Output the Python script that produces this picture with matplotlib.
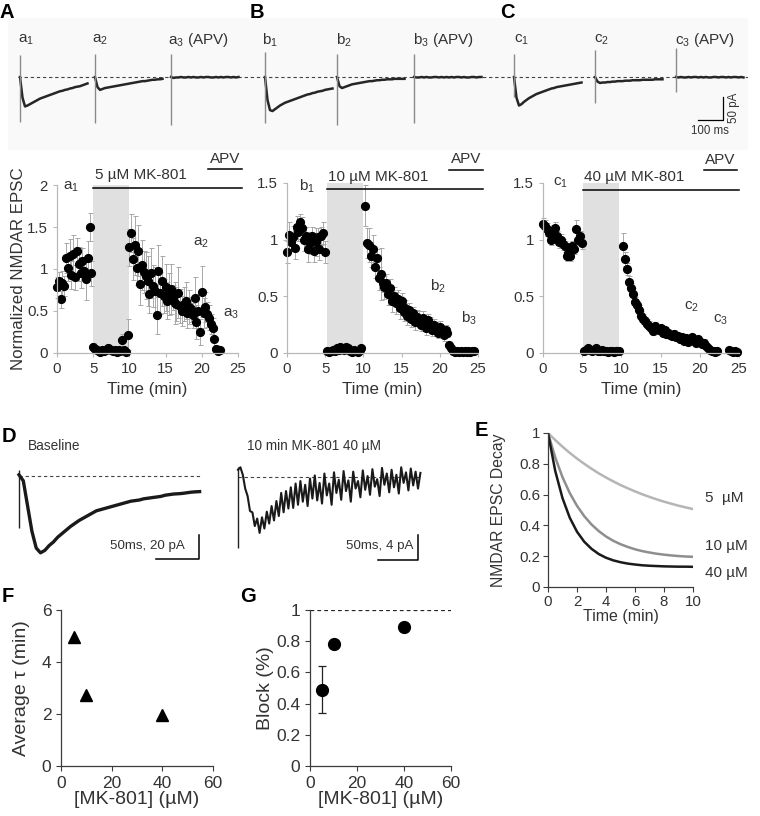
"""
Multi-panel MK-801 block figure: example traces, normalized NMDAR EPSC time
courses at three MK-801 concentrations, decay fits and dose summaries.
Saves out.png (760 x 816 px).
"""

import numpy as np
import matplotlib
matplotlib.use("Agg")
import matplotlib.pyplot as plt

plt.rcParams['font.family'] = ['Liberation Sans', 'DejaVu Sans']
plt.rcParams['mathtext.fontset'] = 'custom'
plt.rcParams['mathtext.rm'] = 'Liberation Sans'
plt.rcParams['mathtext.it'] = 'Liberation Sans:italic'

# ---------------------------------------------------------------- data ------
SWEEP_MIN = 0.25          # minutes between plotted sweeps
nan = np.nan

# A: 5 uM MK-801 (normalized EPSC, SEM)
a_norm = [0.78, 0.86, 0.64, 0.83, 0.80, 1.13, 1.01, 1.16, 0.93, 1.18,
          0.90, 1.21, 1.06, 0.95, 1.10, 0.98, 0.88, 1.13, 1.50, 0.95,
          0.07, 0.05, 0.03, 0.02, 0.01, 0.03, 0.02, 0.04, 0.06, 0.05,
          0.03, 0.02, 0.04, 0.01, 0.03, 0.02, 0.15, 0.03, 0.01, 0.22,
          1.26, 1.43, 1.12, 1.28, 1.01, 1.22, 0.82, 1.05, 0.96, 0.92,
          0.86, 0.70, 0.95, 0.80, 0.74, 0.45, 0.98, 0.72, 0.86, 0.68,
          0.78, 0.62, 0.70, 0.76, 0.66, 0.60, 0.58, 0.72, 0.56, 0.50,
          0.58, 0.62, 0.48, 0.55, 0.52, 0.45, 0.66, 0.37, 0.50, 0.25,
          0.73, 0.48, 0.55, 0.46, 0.42, 0.35, 0.30, 0.17, 0.05, 0.02, 0.03]
a_sem = [0.12, 0.10, 0.10, 0.15, 0.12, 0.18, 0.15, 0.20, 0.17, 0.22,
         0.15, 0.16, 0.20, 0.18, 0.15, 0.12, 0.25, 0.20, 0.17, 0.15,
         0.05, 0.04, 0.03, 0.03, 0.02, 0.03, 0.03, 0.04, 0.05, 0.04,
         0.03, 0.03, 0.04, 0.02, 0.03, 0.03, 0.08, 0.04, 0.03, 0.18,
         0.22, 0.23, 0.25, 0.35, 0.20, 0.30, 0.25, 0.30, 0.25, 0.28,
         0.30, 0.22, 0.30, 0.25, 0.28, 0.22, 0.30, 0.25, 0.30, 0.20,
         0.28, 0.22, 0.25, 0.30, 0.15, 0.25, 0.20, 0.30, 0.20, 0.18,
         0.20, 0.22, 0.18, 0.20, 0.15, 0.15, 0.25, 0.20, 0.20, 0.15,
         0.30, 0.18, 0.18, 0.15, 0.15, 0.12, 0.12, 0.10, 0.05, 0.03, 0.03]

# B: 10 uM MK-801
b_norm = [0.89, 1.04, 0.98, 1.02, 0.93, 1.11, 1.07, 1.16, 1.10, 1.00,
          1.03, 0.92, 0.97, 1.03, 0.90, 0.98, 1.02, 0.92, 1.03, 1.06, 0.89,
          0.02, 0.01, 0.02, 0.03, 0.02, 0.04, 0.03, 0.05, 0.04, 0.03,
          0.05, 0.04, 0.02, 0.01, 0.03, 0.02, 0.01, 0.03, 0.04, nan,
          1.30, 0.97, 0.95, 0.86, 0.92, 0.76, 0.84, 0.66, 0.70, 0.62,
          0.58, 0.62, 0.52, 0.57, 0.46, 0.50, 0.44, 0.48, 0.40, 0.46,
          0.36, 0.40, 0.33, 0.38, 0.30, 0.35, 0.27, 0.32, 0.30, 0.25,
          0.31, 0.28, 0.22, 0.29, 0.26, 0.20, 0.25, 0.22, 0.18, 0.23,
          0.20, 0.16, 0.20, 0.18, 0.07, 0.04, 0.02, 0.01, 0.02, 0.01,
          0.02, 0.01, 0.02, 0.01, 0.02, 0.01, 0.02, 0.02]
b_sem = [0.10, 0.12, 0.08, 0.10, 0.10, 0.10, 0.08, 0.07, 0.10, 0.10,
         0.08, 0.12, 0.10, 0.08, 0.10, 0.12, 0.08, 0.10, 0.08, 0.10, 0.10,
         0.02, 0.02, 0.02, 0.02, 0.02, 0.02, 0.02, 0.02, 0.02, 0.02,
         0.02, 0.02, 0.02, 0.02, 0.02, 0.02, 0.02, 0.02, 0.02, nan,
         0.18, 0.13, 0.15, 0.10, 0.12, 0.10, 0.08, 0.10, 0.23, 0.08,
         0.10, 0.08, 0.10, 0.08, 0.10, 0.08, 0.10, 0.08, 0.10, 0.07,
         0.08, 0.07, 0.08, 0.06, 0.07, 0.06, 0.07, 0.06, 0.07, 0.06,
         0.06, 0.05, 0.06, 0.05, 0.06, 0.05, 0.05, 0.05, 0.05, 0.05,
         0.05, 0.05, 0.05, 0.04, 0.03, 0.02, 0.02, 0.02, 0.02, 0.02,
         0.02, 0.02, 0.02, 0.02, 0.02, 0.02, 0.02, 0.02]

# C: 40 uM MK-801
c_norm = [1.14, 1.12, 1.09, 1.06, 1.00, 1.05, 1.10, 1.03, 0.98, 1.00,
          0.96, 0.94, 0.86, 0.88, 0.86, 0.94, 0.92, 1.09, 1.00, 1.03, 0.97,
          0.02, 0.03, 0.04, 0.03, 0.02, 0.03, 0.04, 0.02, 0.02, 0.03,
          0.02, 0.02, 0.01, 0.02, 0.02, 0.01, 0.02, 0.02, 0.02, nan,
          0.94, 0.83, 0.74, 0.63, 0.57, 0.52, 0.45, 0.42, 0.38, 0.33,
          0.30, 0.28, 0.26, 0.24, 0.22, 0.19, 0.24, 0.21, 0.20, 0.22,
          0.18, 0.20, 0.17, 0.18, 0.16, 0.15, 0.17, 0.14, 0.15, 0.12,
          0.14, 0.11, 0.13, 0.10, 0.12, 0.14, 0.11, 0.09, 0.12, 0.10,
          0.08, 0.09, 0.06, 0.04, 0.03, 0.02, 0.02, 0.01, 0.02, nan,
          nan, nan, nan, nan, 0.03, 0.02, 0.01, 0.02, 0.01]
c_sem = [0.05, 0.05, 0.06, 0.05, 0.05, 0.08, 0.06, 0.05, 0.05, 0.05,
         0.05, 0.05, 0.05, 0.05, 0.05, 0.05, 0.05, 0.08, 0.05, 0.05, 0.05,
         0.02, 0.02, 0.02, 0.02, 0.02, 0.02, 0.02, 0.02, 0.02, 0.02,
         0.02, 0.02, 0.02, 0.02, 0.02, 0.02, 0.02, 0.02, 0.02, nan,
         0.12, 0.06, 0.05, 0.05, 0.05, 0.05, 0.04, 0.04, 0.04, 0.04,
         0.04, 0.04, 0.04, 0.04, 0.03, 0.03, 0.03, 0.03, 0.03, 0.03,
         0.03, 0.03, 0.03, 0.03, 0.03, 0.03, 0.03, 0.03, 0.03, 0.03,
         0.03, 0.03, 0.03, 0.03, 0.03, 0.03, 0.03, 0.03, 0.03, 0.03,
         0.03, 0.03, 0.02, 0.02, 0.02, 0.02, 0.02, 0.02, 0.02, nan,
         nan, nan, nan, nan, 0.02, 0.02, 0.02, 0.02, 0.02]

# example sweeps (pA), 10 ms per sample
TRACE_DT = 10
a1 = [0, -45, -64, -62, -59, -56, -53, -50, -47, -45, -43, -41, -39, -37,
      -35, -33, -31, -30, -28, -27, -25, -24, -22, -21, -20, -18, -16, -14]
a2 = [0, -22, -28, -26, -24, -23, -22, -21, -20, -19, -18, -17, -16, -15,
      -14, -13, -12, -11, -10, -9, -9, -8, -7, -6, -6, -5, -5, -4]
a3 = [0, -2, -1, -1, 0, -1, -1, 0, -1, 0, -1, -1, 0, -1,
      0, 0, -1, -1, 0, -1, 0, -1, 0, 0, -1, 0, -1, 0]
b1 = [0, -50, -72, -74, -70, -66, -62, -59, -56, -54, -52, -50, -48, -46,
      -44, -42, -40, -38, -37, -35, -34, -32, -31, -30, -28, -27, -26, -25]
b2 = [0, -20, -24, -22, -20, -18, -16, -15, -14, -13, -12, -11, -10, -9,
      -9, -8, -7, -7, -6, -6, -5, -5, -5, -4, -4, -4, -4, -4]
b3 = [0, -1, -1, 0, -1, 0, -1, -1, 0, 0, -1, 0, -1, 0,
      -1, 0, -1, 0, 0, -1, 0, -1, -1, 0, 0, -1, 0, 0]
c1 = [0, -45, -62, -59, -54, -50, -46, -43, -40, -37, -35, -33, -31, -29,
      -27, -25, -24, -22, -21, -20, -19, -18, -17, -16, -15, -14, -13, -12]
c2 = [0, -10, -13, -12, -12, -11, -11, -10, -10, -9, -9, -9, -8, -8,
      -8, -7, -7, -7, -7, -6, -6, -6, -6, -6, -5, -5, -5, -5]
c3 = [0, -1, 0, -1, -1, 0, -1, 0, 0, -1, 0, -1, 0, -1,
      -1, 0, 0, -1, 0, 0, -1, 0, -1, 0, 0, -1, 0, -1]
sweep_labels = ["a$_1$", "a$_2$", "a$_3$ (APV)", "b$_1$", "b$_2$", "b$_3$ (APV)",
                "c$_1$", "c$_2$", "c$_3$ (APV)"]
# stimulus artifact extent (pA above / below baseline)
art_top = [48, 51, 50, 55, 50, 50, 51, 58, 64]
art_bot = [-97, -99, -104, -101, -104, -101, -43, -57, -32]

# D: baseline sweep (5 ms / sample) and 10 min in 40 uM MK-801 (3 ms / sample)
D_BASE_DT = 5
d_base = [1, -4, -25, -46, -60, -64, -62, -58, -55, -51, -48, -45, -42, -39.5,
          -37, -35, -33, -31, -29, -28, -27, -26, -25, -24, -23, -22, -21,
          -20.5, -20, -19, -18.5, -18, -17.5, -17, -16, -15.5, -15, -14.8,
          -14.5, -14, -13.5, -13.2, -13]
D_MK_DT = 3
d_mk = [1.2, 1.6, 0.4, -1.8, -3.0, -5.4, -5.6, -7.8, -6.6, -8.9, -6.4, -8.2,
        -5.5, -7.4, -4.6, -6.9, -3.8, -6.2, -2.5, -5.6, -2.2, -5.0, -1.6,
        -4.9, -1.0, -4.4, -0.6, -3.9, -1.2, -4.6, -0.2, -3.4, 0.3, -3.7,
        -0.9, -4.2, 0.6, -2.9, -1.0, -4.4, 0.8, -2.5, -0.4, -3.6, 1.0, -2.2,
        -0.5, -3.9, 0.9, -1.8, -0.6, -3.2, 1.1, -2.0, 0.2, -2.8, 1.3, -1.5,
        -0.3, -3.0, 1.5, -1.2, 0.6, -2.4, 1.2, -1.6, 0.4, -2.6, 1.6, -0.9,
        0.8, -2.1, 1.4, -1.3, 0.9, -1.8, 0.7]

# E: exponential decay fits, sampled every 0.5 min
fit_t = [0, 0.5, 1, 1.5, 2, 2.5, 3, 3.5, 4, 4.5, 5, 5.5, 6, 6.5, 7, 7.5, 8,
         8.5, 9, 9.5, 10]
fit_5 = [1.000, 0.954, 0.911, 0.871, 0.834, 0.800, 0.768, 0.738, 0.711,
         0.686, 0.662, 0.641, 0.621, 0.602, 0.585, 0.569, 0.554, 0.541,
         0.528, 0.517, 0.506]
fit_10 = [1.000, 0.841, 0.713, 0.610, 0.527, 0.460, 0.406, 0.363, 0.328,
          0.300, 0.278, 0.260, 0.245, 0.233, 0.224, 0.216, 0.210, 0.205,
          0.201, 0.198, 0.196]
fit_40 = [1.000, 0.753, 0.577, 0.450, 0.359, 0.294, 0.248, 0.214, 0.190,
          0.173, 0.161, 0.152, 0.146, 0.141, 0.138, 0.136, 0.134, 0.133,
          0.132, 0.132, 0.131]
fit_labels = ["5  µM", "10 µM", "40 µM"]

# F / G: dose summaries
conc = [5, 10, 40]
tau_min = [4.95, 2.75, 1.95]
block = [0.49, 0.78, 0.89]
block_err = [0.15, 0.02, 0.01]

# ------------------------------------------------------------ layout -------
W, H = 760, 816
TXT = '#333333'
TC_AXIS = '#b8b8b8'
DARK = '#3c3c3c'

fig = plt.figure(figsize=(W / 100, H / 100), dpi=100)


def px_rect(l, t, r, b):
    return [l / W, 1 - b / H, (r - l) / W, (b - t) / H]


def fig_text(x, y, s, **kw):
    kw.setdefault('color', TXT)
    fig.text(x / W, 1 - y / H, s, **kw)


for letter, x, y in [("A", 0, 13), ("B", 250, 13), ("C", 500, 13),
                     ("D", 2, 437), ("E", 475, 431), ("F", 2, 597), ("G", 240, 597)]:
    fig_text(x, y, letter, fontsize=14.5, fontweight='bold', color='black',
             va='center', ha='left')

# --- top strip of example sweeps (x: ms, y: pA; 0.25 px/ms, 0.46 px/pA) ---
ax0 = fig.add_axes(px_rect(8, 18, 748, 150))
ax0.set_facecolor('#f9f9f9')
ax0.set_xlim(8 * 4, 748 * 4)
ax0.set_ylim((77 - 150) / 0.46, (77 - 18) / 0.46)
for s in ax0.spines.values():
    s.set_visible(False)
ax0.set_xticks([]); ax0.set_yticks([])

onsets = [80, 380, 684, 1060, 1348, 1656, 2056, 2380, 2704]
label_px = [18, 92, 168, 262, 336, 413, 514, 594, 675]
ax0.plot([72, 2990], [0, 0], ls=(0, (3, 2.5)), color='#444444', lw=0.8)
for k, tr in enumerate([a1, a2, a3, b1, b2, b3, c1, c2, c3]):
    x = onsets[k] + np.arange(len(tr)) * TRACE_DT
    ax0.plot(x, tr, color='#262626', lw=1.8, solid_joinstyle='round')
    ax0.vlines(onsets[k], art_bot[k], art_top[k], color='#8a8a8a', lw=1.0)
    fig_text(label_px[k], 40, sweep_labels[k], fontsize=11, va='center', ha='left')

# scale bar: 100 ms, 50 pA
ax0.plot([2791, 2891, 2891], [-93.5, -93.5, -43.5], color='black', lw=0.9)
fig_text(710, 131, "100 ms", fontsize=8.3, ha='center', va='center')
fig_text(734, 108, "50 pA", fontsize=8.3, ha='center', va='center', rotation=90)


# --- A-C time courses ------------------------------------------------------
def time_course(rect, vals, sems, ymax, yticks, yticklabels, shade, mk, apv,
                mk_text, tags):
    ax = fig.add_axes(px_rect(*rect))
    t = np.arange(len(vals)) * SWEEP_MIN
    ax.axvspan(shade[0], shade[1], color='#e0e0e0', lw=0, zorder=0)
    ax.errorbar(t, vals, yerr=sems, fmt='o', color='black', ms=5.6,
                ecolor='#a8a8a8', elinewidth=0.7, capsize=1.8, capthick=0.7)
    for art in ax.lines + list(ax.collections):
        art.set_clip_on(False)
    ax.set_xlim(0, 25)
    ax.set_ylim(0, ymax)
    ax.set_xticks([0, 5, 10, 15, 20, 25])
    ax.set_yticks(yticks)
    ax.set_yticklabels(yticklabels)
    for s in ('top', 'right'):
        ax.spines[s].set_visible(False)
    for s in ('left', 'bottom'):
        ax.spines[s].set_color(TC_AXIS)
        ax.spines[s].set_linewidth(0.9)
    ax.tick_params(colors=TC_AXIS, labelcolor=TXT, labelsize=10.8, length=3,
                   width=0.8)
    ax.set_xlabel("Time (min)", fontsize=12.2, color=TXT)
    ax.xaxis.set_label_coords(0.5, -0.215)
    ax.xaxis.label.set_va('center')
    # drug application bars
    ax.plot([mk[0], mk[1]], [mk[2], mk[2]], color='black', lw=1.1, clip_on=False)
    ax.plot([apv[0], apv[1]], [apv[2], apv[2]], color='black', lw=1.1, clip_on=False)
    ax.text(mk_text[0], mk_text[1], mk_text[2], fontsize=11, color=TXT,
            va='center', ha='left')
    ax.text((apv[0] + apv[1]) / 2, apv[3], "APV", fontsize=11, color=TXT,
            va='center', ha='center')
    for (x, y, s) in tags:
        ax.text(x, y, s, fontsize=11, color=TXT, ha='center', va='center')
    return ax


axA = time_course((57, 185, 238, 353), a_norm, a_sem, 2,
                  [0, 0.5, 1, 1.5, 2], ["0", "0.5", "1", "1.5", "2"],
                  (5, 10), (5, 25.6, 1.96), (20.9, 25.5, 2.19, 2.31),
                  (5.3, 2.12, "5 µM MK-801"),
                  [(1.9, 1.98, "a$_1$"), (19.85, 1.31, "a$_2$"), (24.1, 0.47, "a$_3$")])
axA.set_ylabel("Normalized NMDAR EPSC", fontsize=12.2, color=TXT)
axA.yaxis.set_label_coords(-0.215, 0.5)
axA.yaxis.label.set_va('center')

time_course((287, 183, 478, 353), b_norm, b_sem, 1.5,
            [0, 0.5, 1, 1.5], ["0", "0.5", "1", "1.5"],
            (5.3, 10.0), (5.3, 25.6, 1.445), (21.2, 25.6, 1.615, 1.71),
            (5.4, 1.556, "10 µM MK-801"),
            [(2.6, 1.47, "b$_1$"), (19.8, 0.585, "b$_2$"), (23.8, 0.31, "b$_3$")])

time_course((543, 183, 739, 353), c_norm, c_sem, 1.5,
            [0, 0.5, 1, 1.5], ["0", "0.5", "1", "1.5"],
            (5.1, 9.7), (5.1, 25.0, 1.44), (20.5, 24.7, 1.615, 1.70),
            (5.2, 1.556, "40 µM MK-801"),
            [(2.2, 1.50, "c$_1$"), (19.0, 0.41, "c$_2$"), (22.6, 0.29, "c$_3$")])


# --- D: example sweeps ----------------------------------------------------
def bare(ax):
    for s in ax.spines.values():
        s.set_visible(False)
    ax.set_xticks([]); ax.set_yticks([])
    ax.patch.set_alpha(0)


# left: t=0 at px 19, 0.86 px/ms; baseline px 476, 1.2 px/pA
axD1 = fig.add_axes(px_rect(10, 455, 215, 570))
bare(axD1)
axD1.set_xlim((10 - 19) / 0.86, (215 - 19) / 0.86)
axD1.set_ylim((476 - 570) / 1.2, (476 - 455) / 1.2)
td = np.arange(len(d_base)) * D_BASE_DT
axD1.plot([0, 213], [0, 0], ls=(0, (3, 2.5)), color='#444444', lw=0.8)
axD1.vlines(0, -43, 5, color='#222222', lw=1.0)
axD1.plot(td, d_base, color='#1a1a1a', lw=2.4)
axD1.plot([159, 209, 209], [-69.4, -69.4, -49.4], color='black', lw=1.1)
fig_text(185, 546, "50ms, 20 pA", fontsize=9.6, ha='right', va='center')
fig_text(28, 446, "Baseline", fontsize=9.8, ha='left', va='center')

# right: t=0 at px 238, 0.8 px/ms; baseline px 477.3, 6.25 px/pA
axD2 = fig.add_axes(px_rect(230, 455, 430, 570))
bare(axD2)
axD2.set_xlim((230 - 238) / 0.8, (430 - 238) / 0.8)
axD2.set_ylim((477.3 - 570) / 6.25, (477.3 - 455) / 6.25)
tm = np.arange(len(d_mk)) * D_MK_DT
axD2.plot([0, 228], [0, 0], ls=(0, (3, 2.5)), color='#444444', lw=0.8)
axD2.vlines(0, -11.3, 1.7, color='#222222', lw=1.0)
axD2.plot(tm, d_mk, color='#1a1a1a', lw=1.5)
axD2.plot([175, 225, 225], [-13.2, -13.2, -9.2], color='black', lw=1.1)
fig_text(413, 546, "50ms, 4 pA", fontsize=9.6, ha='right', va='center')
fig_text(247, 446, "10 min MK-801 40 µM", fontsize=9.8, ha='left', va='center')


# --- E, F, G --------------------------------------------------------------
def style_dark(ax, fs, pad=3.5):
    for s in ('top', 'right'):
        ax.spines[s].set_visible(False)
    for s in ('left', 'bottom'):
        ax.spines[s].set_color(DARK)
        ax.spines[s].set_linewidth(0.9)
    ax.tick_params(colors=DARK, labelcolor=TXT, labelsize=fs, length=3.5,
                   width=0.8, pad=pad)


axE = fig.add_axes(px_rect(548, 433, 693, 587))
for y, c in zip([fit_5, fit_10, fit_40], ['#b5b5b5', '#8e8e8e', '#1a1a1a']):
    axE.plot(fit_t, y, color=c, lw=1.8)
axE.set_xlim(0, 10)
axE.set_ylim(0, 1)
axE.set_xticks([0, 2, 4, 6, 8, 10])
axE.set_yticks([0, 0.2, 0.4, 0.6, 0.8, 1])
axE.set_yticklabels(["0", "0.2", "0.4", "0.6", "0.8", "1"])
style_dark(axE, 10.8, pad=2)
axE.set_xlabel("Time (min)", fontsize=11.5, color=TXT)
axE.xaxis.set_label_coords(0.5, (587 - 617) / 154)
axE.xaxis.label.set_va('center')
axE.set_ylabel("NMDAR EPSC Decay", fontsize=11.3, color=TXT)
axE.yaxis.set_label_coords((498 - 548) / 145, 0.5)
axE.yaxis.label.set_va('center')
fig_text(705, 498, fit_labels[0], fontsize=11, ha='left', va='center')
fig_text(705, 546, fit_labels[1], fontsize=11, ha='left', va='center')
fig_text(705, 573, fit_labels[2], fontsize=11, ha='left', va='center')

axF = fig.add_axes(px_rect(61, 610, 213, 766))
axF.plot(conc, tau_min, '^', color='black', ms=8.5, clip_on=False)
axF.set_xlim(0, 60)
axF.set_ylim(0, 6)
axF.set_xticks([0, 20, 40, 60])
axF.set_yticks([0, 2, 4, 6])
style_dark(axF, 12.5)
axF.set_xlabel("[MK-801] (µM)", fontsize=14, color=TXT)
axF.xaxis.set_label_coords(0.5, (766 - 800) / 156)
axF.xaxis.label.set_va('center')
axF.set_ylabel("Average τ (min)", fontsize=14, color=TXT)
axF.yaxis.set_label_coords((22 - 61) / 152, 0.5)
axF.yaxis.label.set_va('center')

axG = fig.add_axes(px_rect(310, 610, 451, 766))
axG.axhline(1, ls=(0, (3, 2.5)), color='#222222', lw=0.9)
axG.errorbar(conc, block, yerr=block_err, fmt='o', color='black', ms=8.5,
             ecolor='#222222', elinewidth=0.9, capsize=3, capthick=0.9)
axG.set_xlim(0, 60)
axG.set_ylim(0, 1)
axG.set_xticks([0, 20, 40, 60])
axG.set_yticks([0, 0.2, 0.4, 0.6, 0.8, 1])
axG.set_yticklabels(["0", "0.2", "0.4", "0.6", "0.8", "1"])
style_dark(axG, 12.5)
axG.set_xlabel("[MK-801] (µM)", fontsize=14, color=TXT)
axG.xaxis.set_label_coords(0.5, (766 - 800) / 156)
axG.xaxis.label.set_va('center')
axG.set_ylabel("Block (%)", fontsize=14, color=TXT)
axG.yaxis.set_label_coords((265 - 310) / 141, 0.5)
axG.yaxis.label.set_va('center')

fig.savefig("out.png", dpi=100)
